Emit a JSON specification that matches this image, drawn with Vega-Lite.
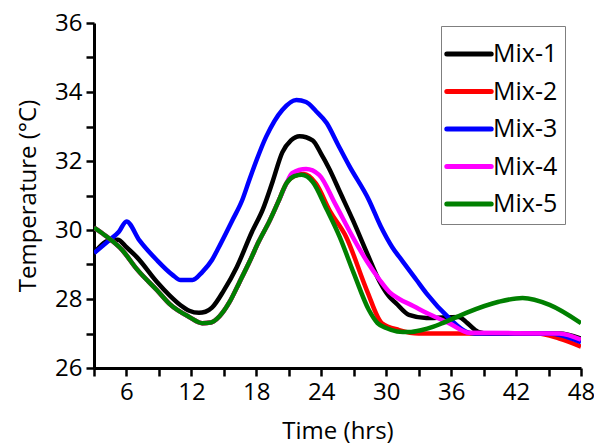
{
  "$schema": "https://vega.github.io/schema/vega-lite/v6.json",
  "width": 487,
  "height": 345,
  "autosize": "none",
  "padding": {"left": 94, "top": 23, "right": 13, "bottom": 79},
  "background": "white",
  "config": {"view": {"stroke": null}, "font": "Open Sans"},
  "data": {"values": [
    {"s":"Mix-1","t":3,"v":29.33},{"s":"Mix-1","t":4.4,"v":29.7},{"s":"Mix-1","t":5.2,"v":29.72},{"s":"Mix-1","t":6,"v":29.5},{"s":"Mix-1","t":7,"v":29.2},{"s":"Mix-1","t":8.8,"v":28.5},{"s":"Mix-1","t":10,"v":28.1},{"s":"Mix-1","t":11,"v":27.82},{"s":"Mix-1","t":11.8,"v":27.66},{"s":"Mix-1","t":12.7,"v":27.6},{"s":"Mix-1","t":13.3,"v":27.63},{"s":"Mix-1","t":13.9,"v":27.75},{"s":"Mix-1","t":15,"v":28.25},{"s":"Mix-1","t":16.2,"v":28.93},{"s":"Mix-1","t":17.6,"v":29.95},{"s":"Mix-1","t":18.6,"v":30.6},{"s":"Mix-1","t":19.5,"v":31.4},{"s":"Mix-1","t":20.4,"v":32.25},{"s":"Mix-1","t":21.2,"v":32.6},{"s":"Mix-1","t":22,"v":32.72},{"s":"Mix-1","t":23.2,"v":32.6},{"s":"Mix-1","t":24,"v":32.2},{"s":"Mix-1","t":24.7,"v":31.8},{"s":"Mix-1","t":25.8,"v":31.05},{"s":"Mix-1","t":26.9,"v":30.3},{"s":"Mix-1","t":28.2,"v":29.35},{"s":"Mix-1","t":29.4,"v":28.5},{"s":"Mix-1","t":30.3,"v":28.06},{"s":"Mix-1","t":30.9,"v":27.88},{"s":"Mix-1","t":32.1,"v":27.54},{"s":"Mix-1","t":33.7,"v":27.45},{"s":"Mix-1","t":36.7,"v":27.48},{"s":"Mix-1","t":37.5,"v":27.3},{"s":"Mix-1","t":38.5,"v":27.05},{"s":"Mix-1","t":39.5,"v":27.0},{"s":"Mix-1","t":46,"v":27.0},{"s":"Mix-1","t":48,"v":26.85},

    {"s":"Mix-2","t":3,"v":30.07},{"s":"Mix-2","t":4,"v":29.85},{"s":"Mix-2","t":5.6,"v":29.42},{"s":"Mix-2","t":7,"v":28.85},{"s":"Mix-2","t":8.8,"v":28.26},{"s":"Mix-2","t":10,"v":27.85},{"s":"Mix-2","t":11.8,"v":27.48},{"s":"Mix-2","t":13,"v":27.3},{"s":"Mix-2","t":13.8,"v":27.32},{"s":"Mix-2","t":14.6,"v":27.5},{"s":"Mix-2","t":15.5,"v":27.9},{"s":"Mix-2","t":16.4,"v":28.46},{"s":"Mix-2","t":17.4,"v":29.1},{"s":"Mix-2","t":18.2,"v":29.65},{"s":"Mix-2","t":19.2,"v":30.25},{"s":"Mix-2","t":20,"v":30.8},{"s":"Mix-2","t":20.8,"v":31.36},{"s":"Mix-2","t":21.5,"v":31.56},{"s":"Mix-2","t":22.4,"v":31.62},{"s":"Mix-2","t":23.5,"v":31.35},{"s":"Mix-2","t":24.8,"v":30.55},{"s":"Mix-2","t":26.3,"v":29.8},{"s":"Mix-2","t":28.2,"v":28.26},{"s":"Mix-2","t":29.6,"v":27.3},{"s":"Mix-2","t":31.2,"v":27.1},{"s":"Mix-2","t":33,"v":27.0},{"s":"Mix-2","t":44,"v":27.0},{"s":"Mix-2","t":46,"v":26.85},{"s":"Mix-2","t":48,"v":26.62},

    {"s":"Mix-3","t":3,"v":29.33},{"s":"Mix-3","t":4.4,"v":29.7},{"s":"Mix-3","t":5.3,"v":29.95},{"s":"Mix-3","t":6,"v":30.25},{"s":"Mix-3","t":7.2,"v":29.7},{"s":"Mix-3","t":8.8,"v":29.13},{"s":"Mix-3","t":10.25,"v":28.7},{"s":"Mix-3","t":11,"v":28.55},{"s":"Mix-3","t":12.1,"v":28.55},{"s":"Mix-3","t":13,"v":28.78},{"s":"Mix-3","t":13.9,"v":29.13},{"s":"Mix-3","t":14.4,"v":29.42},{"s":"Mix-3","t":15.8,"v":30.29},{"s":"Mix-3","t":16.7,"v":30.87},{"s":"Mix-3","t":17.35,"v":31.45},{"s":"Mix-3","t":18.9,"v":32.7},{"s":"Mix-3","t":20.4,"v":33.48},{"s":"Mix-3","t":21.7,"v":33.77},{"s":"Mix-3","t":22.6,"v":33.71},{"s":"Mix-3","t":23.5,"v":33.45},{"s":"Mix-3","t":24.5,"v":33.1},{"s":"Mix-3","t":25.5,"v":32.5},{"s":"Mix-3","t":26.6,"v":31.85},{"s":"Mix-3","t":28.4,"v":30.87},{"s":"Mix-3","t":29.5,"v":30.1},{"s":"Mix-3","t":30.56,"v":29.5},{"s":"Mix-3","t":31.5,"v":29.1},{"s":"Mix-3","t":32.8,"v":28.55},{"s":"Mix-3","t":33.7,"v":28.17},{"s":"Mix-3","t":35.8,"v":27.45},{"s":"Mix-3","t":37.4,"v":27.05},{"s":"Mix-3","t":38.2,"v":27.0},{"s":"Mix-3","t":45,"v":27.0},{"s":"Mix-3","t":48,"v":26.75},

    {"s":"Mix-4","t":3,"v":30.07},{"s":"Mix-4","t":4,"v":29.85},{"s":"Mix-4","t":5.6,"v":29.42},{"s":"Mix-4","t":7,"v":28.85},{"s":"Mix-4","t":8.8,"v":28.26},{"s":"Mix-4","t":10,"v":27.85},{"s":"Mix-4","t":11.8,"v":27.48},{"s":"Mix-4","t":13,"v":27.3},{"s":"Mix-4","t":13.8,"v":27.32},{"s":"Mix-4","t":14.6,"v":27.5},{"s":"Mix-4","t":15.5,"v":27.9},{"s":"Mix-4","t":16.4,"v":28.46},{"s":"Mix-4","t":17.4,"v":29.1},{"s":"Mix-4","t":18.2,"v":29.65},{"s":"Mix-4","t":19.2,"v":30.25},{"s":"Mix-4","t":20,"v":30.8},{"s":"Mix-4","t":20.8,"v":31.36},{"s":"Mix-4","t":21.3,"v":31.65},{"s":"Mix-4","t":22.6,"v":31.77},{"s":"Mix-4","t":23.8,"v":31.6},{"s":"Mix-4","t":25.3,"v":30.75},{"s":"Mix-4","t":26.9,"v":29.8},{"s":"Mix-4","t":28.2,"v":29.1},{"s":"Mix-4","t":29.4,"v":28.55},{"s":"Mix-4","t":30.3,"v":28.2},{"s":"Mix-4","t":31.2,"v":28.0},{"s":"Mix-4","t":32.5,"v":27.8},{"s":"Mix-4","t":33.7,"v":27.6},{"s":"Mix-4","t":35.8,"v":27.3},{"s":"Mix-4","t":37.7,"v":27.02},{"s":"Mix-4","t":46,"v":27.0},{"s":"Mix-4","t":48,"v":26.82},

    {"s":"Mix-5","t":3,"v":30.07},{"s":"Mix-5","t":4,"v":29.85},{"s":"Mix-5","t":5.6,"v":29.42},{"s":"Mix-5","t":7,"v":28.85},{"s":"Mix-5","t":8.8,"v":28.26},{"s":"Mix-5","t":10,"v":27.85},{"s":"Mix-5","t":11.8,"v":27.48},{"s":"Mix-5","t":13,"v":27.3},{"s":"Mix-5","t":13.8,"v":27.32},{"s":"Mix-5","t":14.6,"v":27.5},{"s":"Mix-5","t":15.5,"v":27.9},{"s":"Mix-5","t":16.4,"v":28.46},{"s":"Mix-5","t":17.4,"v":29.1},{"s":"Mix-5","t":18.2,"v":29.65},{"s":"Mix-5","t":19.2,"v":30.25},{"s":"Mix-5","t":20,"v":30.8},{"s":"Mix-5","t":20.8,"v":31.36},{"s":"Mix-5","t":21.5,"v":31.56},{"s":"Mix-5","t":22.2,"v":31.6},{"s":"Mix-5","t":23.2,"v":31.4},{"s":"Mix-5","t":24.5,"v":30.6},{"s":"Mix-5","t":25.7,"v":29.8},{"s":"Mix-5","t":27,"v":28.75},{"s":"Mix-5","t":28.4,"v":27.68},{"s":"Mix-5","t":29.2,"v":27.3},{"s":"Mix-5","t":30,"v":27.16},{"s":"Mix-5","t":31,"v":27.06},{"s":"Mix-5","t":32.1,"v":27.04},{"s":"Mix-5","t":33.3,"v":27.1},{"s":"Mix-5","t":34.3,"v":27.19},{"s":"Mix-5","t":35.2,"v":27.3},{"s":"Mix-5","t":37.4,"v":27.6},{"s":"Mix-5","t":40.4,"v":27.92},{"s":"Mix-5","t":42.6,"v":28.03},{"s":"Mix-5","t":45.1,"v":27.83},{"s":"Mix-5","t":48,"v":27.3}
  ]},
  "mark": {"type": "line", "strokeWidth": 4.5, "interpolate": "monotone", "clip": true},
  "encoding": {
    "x": {
      "field": "t", "type": "quantitative",
      "scale": {"domain": [3, 48], "nice": false, "zero": false},
      "axis": {
        "title": "Time (hrs)",
        "values": [3, 6, 9, 12, 15, 18, 21, 24, 27, 30, 33, 36, 39, 42, 45, 48],
        "labelExpr": "datum.value % 6 === 0 ? datum.label : ''",
        "grid": false,
        "domainColor": "black", "domainWidth": 3,
        "tickColor": "black", "tickWidth": 2.5, "tickSize": 8,
        "labelFontSize": 24, "labelColor": "black", "labelPadding": 4, "labelFlush": false,
        "titleFontSize": 24, "titleFontWeight": "normal", "titleColor": "black", "titlePadding": 15,
        "encode": {"ticks": {"update": {"y2": {"signal": "datum.value % 6 === 0 ? 8 : 4"}}}}
      }
    },
    "y": {
      "field": "v", "type": "quantitative",
      "scale": {"domain": [26, 36], "nice": false, "zero": false},
      "axis": {
        "title": "Temperature (°C)",
        "values": [26, 27, 28, 29, 30, 31, 32, 33, 34, 35, 36],
        "labelExpr": "datum.value % 2 === 0 ? datum.label : ''",
        "grid": false,
        "domainColor": "black", "domainWidth": 3,
        "tickColor": "black", "tickWidth": 2.5, "tickSize": 8,
        "labelFontSize": 24, "labelColor": "black", "labelPadding": 4,
        "titleFontSize": 24, "titleFontWeight": "normal", "titleColor": "black", "titlePadding": 14,
        "encode": {"ticks": {"update": {"x2": {"signal": "datum.value % 2 === 0 ? -8 : -4"}}}}
      }
    },
    "color": {
      "field": "s", "type": "nominal",
      "scale": {"domain": ["Mix-1", "Mix-2", "Mix-3", "Mix-4", "Mix-5"], "range": ["#000000", "#ff0000", "#0000ff", "#ff00ff", "#008000"]},
      "legend": {
        "title": null, "orient": "none", "legendX": 347, "legendY": 3,
        "strokeColor": "#7f7f7f", "fillColor": "white", "padding": 7,
        "symbolType": "M-1.2,0H1.2", "symbolSize": 1369, "symbolStrokeWidth": 5,
        "labelFontSize": 25, "labelColor": "black", "labelOffset": 3, "rowPadding": 3.5,
        "encode": {"symbols": {"update": {"strokeCap": {"value": "round"}}}}
      }
    }
  }
}
